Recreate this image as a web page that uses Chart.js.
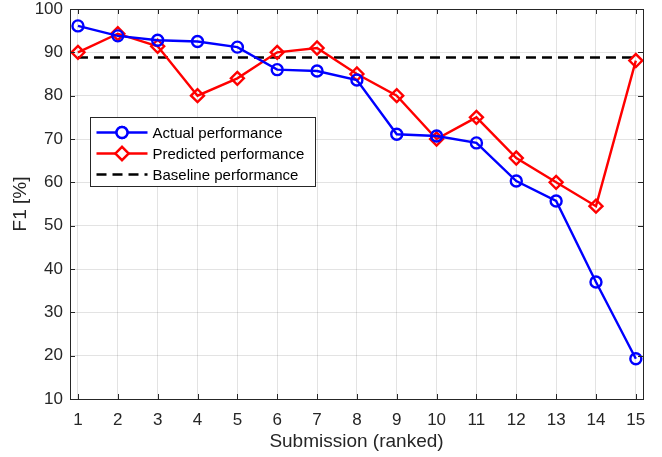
<!DOCTYPE html>
<html lang="en">
<head>
  <meta charset="UTF-8">
  <title>F1 per submission</title>
  <script src="https://cdn.jsdelivr.net/npm/chart.js"></script>
  <style>
    html, body { margin: 0; padding: 0; background: #fff; }
    #wrap { width: 662px; height: 457px; }
  </style>
</head>
<body>
  <div id="wrap"><canvas id="chart" width="662" height="457"></canvas></div>

  <script>
    // data
    const submissions = [1, 2, 3, 4, 5, 6, 7, 8, 9, 10, 11, 12, 13, 14, 15];
    const actual    = [96.1, 93.8, 92.8, 92.5, 91.2, 86.0, 85.7, 83.6, 71.1, 70.7, 69.1, 60.3, 55.7, 37.0, 19.3];
    const predicted = [90.0, 94.3, 91.4, 80.0, 84.0, 90.0, 91.0, 85.0, 80.0, 70.0, 75.0, 65.6, 60.0, 54.5, 88.1];
    const baseline  = [88.8, 88.8];
    const baselineX = [1, 15];
    const yTicks = [10, 20, 30, 40, 50, 60, 70, 80, 90, 100];
    const seriesNames = ['Actual performance', 'Predicted performance', 'Baseline performance'];

    const FONT = '"Liberation Sans", Arial, Helvetica, sans-serif';
    const AXIS = '#262626';

    const toPts = (xs, ys) => xs.map((x, i) => ({ x: x, y: ys[i] }));

    // box, inward ticks and the legend inside the plot (MATLAB style)
    const matlabAxes = {
      id: 'matlabAxes',
      afterDraw(chart) {
        const { ctx, chartArea: a, scales } = chart;
        const tl = 5;
        ctx.save();
        ctx.strokeStyle = AXIS;
        ctx.lineWidth = 1;
        ctx.beginPath();
        scales.x.ticks.forEach(t => {
          const px = Math.round(scales.x.getPixelForValue(t.value)) + 0.5;
          ctx.moveTo(px, a.bottom); ctx.lineTo(px, a.bottom - tl);
          ctx.moveTo(px, a.top); ctx.lineTo(px, a.top + tl);
        });
        scales.y.ticks.forEach(t => {
          const py = Math.round(scales.y.getPixelForValue(t.value)) + 0.5;
          ctx.moveTo(a.left, py); ctx.lineTo(a.left + tl, py);
          ctx.moveTo(a.right, py); ctx.lineTo(a.right - tl, py);
        });
        ctx.stroke();
        ctx.strokeRect(Math.round(a.left) + 0.5, Math.round(a.top) + 0.5,
          Math.round(a.right - a.left), Math.round(a.bottom - a.top));

        // legend
        const bx = a.left + 20.5, by = a.top + 108.5, bw = 225, bh = 69;
        ctx.fillStyle = '#fff';
        ctx.fillRect(bx, by, bw, bh);
        ctx.strokeStyle = AXIS;
        ctx.strokeRect(bx, by, bw, bh);
        const rows = chart.data.datasets;
        rows.forEach((ds, i) => {
          const y = by + 15 + i * 21;
          const x0 = bx + 6, x1 = bx + 57;
          ctx.strokeStyle = ds.borderColor;
          ctx.lineWidth = ds.borderWidth;
          ctx.setLineDash(ds.borderDash || []);
          ctx.beginPath(); ctx.moveTo(x0, y); ctx.lineTo(x1, y); ctx.stroke();
          ctx.setLineDash([]);
          if (ds.pointRadius > 0) {
            Chart.helpers.drawPoint(ctx, {
              pointStyle: ds.pointStyle, radius: ds.pointRadius,
              borderWidth: ds.borderWidth, rotation: 0
            }, (x0 + x1) / 2, y);
            ctx.fillStyle = '#fff';
            ctx.fill();
            ctx.stroke();
          }
          ctx.fillStyle = '#000';
          ctx.font = '15px ' + FONT;
          ctx.textBaseline = 'middle';
          ctx.fillText(ds.label, bx + 62, y + 1);
        });
        ctx.restore();
      }
    };

    new Chart(document.getElementById('chart'), {
      type: 'line',
      data: {
        datasets: [
          {
            label: seriesNames[0],
            data: toPts(submissions, actual),
            borderColor: '#0000ff', backgroundColor: '#ffffff',
            borderWidth: 2.4, pointStyle: 'circle', pointRadius: 5.5,
            pointBorderWidth: 2.4, pointBackgroundColor: 'rgba(255,255,255,0)',
            tension: 0
          },
          {
            label: seriesNames[1],
            data: toPts(submissions, predicted),
            borderColor: '#ff0000', backgroundColor: '#ffffff',
            borderWidth: 2.4, pointStyle: 'rectRot', pointRadius: 6.5,
            pointBorderWidth: 2.4, pointBackgroundColor: 'rgba(255,255,255,0)',
            tension: 0
          },
          {
            label: seriesNames[2],
            data: toPts(baselineX, baseline),
            borderColor: '#000000', borderWidth: 2.4,
            borderDash: [10, 6], pointRadius: 0
          }
        ]
      },
      options: {
        responsive: false,
        animation: false,
        devicePixelRatio: 1,
        layout: { padding: { left: 0, right: 19, top: 9, bottom: 0 } },
        plugins: { legend: { display: false }, tooltip: { enabled: false } },
        scales: {
          x: {
            type: 'linear', min: 0.8, max: 15.18,
            afterBuildTicks: s => { s.ticks = submissions.map(v => ({ value: v })); },
            afterFit: s => { s.height = 58; s.paddingLeft = 0; s.paddingRight = 0; },
            grid: { color: 'rgba(38,38,38,0.13)', drawTicks: false },
            border: { display: false },
            ticks: { color: AXIS, font: { family: FONT, size: 17 }, padding: 11, maxRotation: 0 },
            title: { display: true, text: 'Submission (ranked)', color: AXIS,
                     font: { family: FONT, size: 19 }, padding: { top: 0, bottom: 4 } }
          },
          y: {
            min: 10, max: 100,
            afterBuildTicks: s => { s.ticks = yTicks.map(v => ({ value: v })); },
            afterFit: s => { s.width = 70; s.paddingTop = 0; s.paddingBottom = 0; },
            grid: { color: 'rgba(38,38,38,0.13)', drawTicks: false },
            border: { display: false },
            ticks: { color: AXIS, font: { family: FONT, size: 17 }, padding: 7 },
            title: { display: true, text: 'F1 [%]', color: AXIS,
                     font: { family: FONT, size: 19 }, padding: { top: 9, bottom: 0 } }
          }
        }
      },
      plugins: [matlabAxes]
    });
  </script>
</body>
</html>
